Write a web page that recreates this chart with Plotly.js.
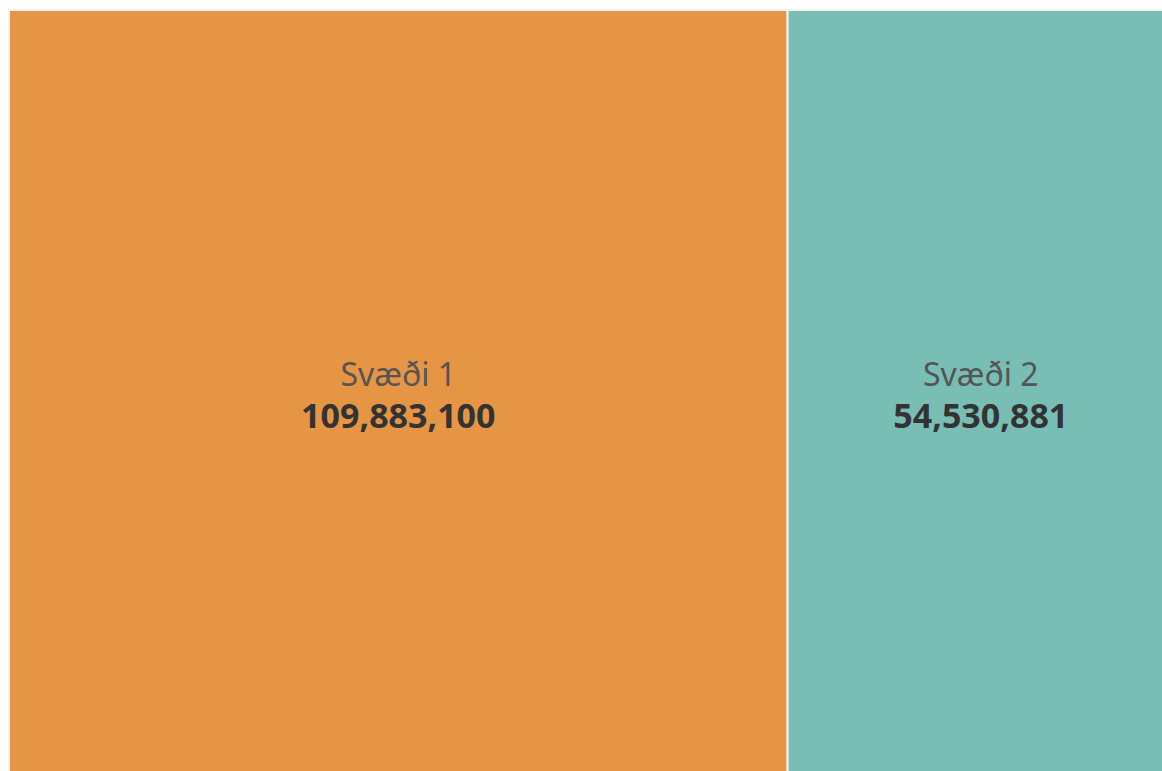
<!DOCTYPE html>
<html>
<head>
<meta charset="utf-8">
<script src="https://cdn.plot.ly/plotly-3.0.1.min.js"></script>
<style>
html,body{margin:0;padding:0;overflow:hidden;background:#fff;}
#chart{width:1175px;height:780px;}
</style>
</head>
<body>
<div id="chart"></div>
<script>
const labels = ["Svæði 1", "Svæði 2"];
const parents = ["", ""];
const values = [109883100, 54530881];
const colors = ["#E69545", "#78BEB4"];

const texts = labels.map((l, i) =>
  '<span style="color:#555555">' + l + '</span><br><b><span style="color:#333333;font-size:34px">' +
  values[i].toLocaleString('en-US') + '</span></b>');

Plotly.newPlot('chart', [{
  type: 'treemap',
  labels: labels,
  parents: parents,
  values: values,
  text: texts,
  texttemplate: '%{text}',
  textposition: 'middle center',
  textfont: {family: 'Noto Sans', size: 32, color: '#444444'},
  marker: {colors: colors, line: {width: 2, color: '#f4f4f4'}, pad: {t: 0, l: 0, r: 0, b: 0}},
  tiling: {packing: 'squarify', pad: 0},
  pathbar: {visible: false},
  sort: false,
  hoverinfo: 'label+value'
}], {
  width: 1175,
  height: 780,
  margin: {l: 9, r: 1, t: 10, b: 0},
  paper_bgcolor: '#ffffff',
  showlegend: false
}, {displayModeBar: false, staticPlot: true});
</script>
</body>
</html>
